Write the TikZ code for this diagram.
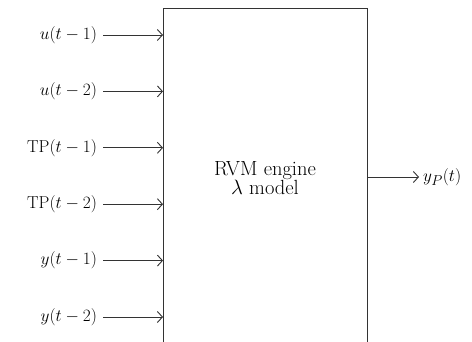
\documentclass[tikz,border=0pt]{standalone}
\usetikzlibrary{arrows.meta}
\begin{document}
\begin{tikzpicture}[x=1pt,y=1pt,
  line width=0.9pt,
  wire/.style={draw=black!80, -{Straight Barb[length=5pt,width=11pt,line width=0.9pt]}},
  inlabel/.style={anchor=east, inner sep=0pt, outer sep=6pt, font=\fontsize{19}{21}\selectfont},
  outlabel/.style={anchor=west, inner sep=0pt, outer sep=4pt, font=\fontsize{19}{21}\selectfont},
  boxtext/.style={anchor=base, align=center, inner sep=0pt, font=\fontsize{20.5}{18.5}\selectfont}]
  \useasboundingbox (0,0) rectangle (472,-342);

  % the model block (open at the bottom)
  \coordinate (bl) at (163,-342);
  \coordinate (tl) at (163,-8);
  \coordinate (tr) at (367,-8);
  \coordinate (br) at (367,-342);
  \draw[black!80] (bl) -- (tl) -- (tr) -- (br);

  % base anchor sits on the last line
  \node[boxtext] (model) at (265,-195) {RVM engine\\$\lambda$ model};

  % lagged inputs
  \foreach \name/\txt [count=\i from 0] in {
      a/{$u(t-1)$}, b/{$u(t-2)$}, c/{$\mathrm{TP}(t-1)$},
      d/{$\mathrm{TP}(t-2)$}, e/{$y(t-1)$}, f/{$y(t-2)$}} {
    \pgfmathsetmacro{\yy}{-35-56.4*\i}
    \node[inlabel] (in\name) at (103,\yy) {\txt};
    \coordinate (end\name) at (163,\yy);
    \draw[wire] (in\name.east) -- (end\name);
  }

  % predicted output
  \coordinate (outstart) at (367,-177);
  \node[outlabel] (out) at (419,-177) {$y_P(t)$};
  \draw[wire] (outstart) -- (out.west);
\end{tikzpicture}
\end{document}
